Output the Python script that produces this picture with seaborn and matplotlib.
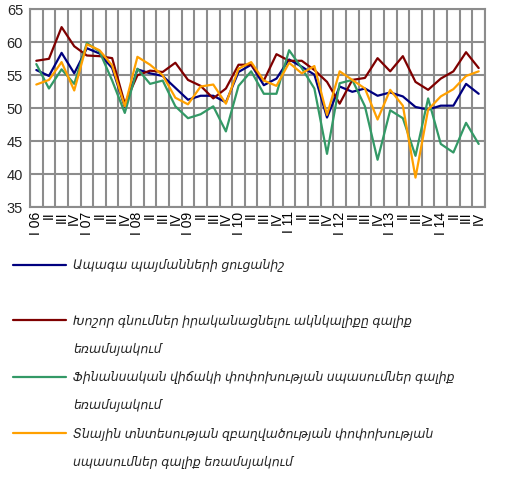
import numpy as np
import pandas as pd
import matplotlib
matplotlib.use("Agg")
import matplotlib.pyplot as plt
from matplotlib.lines import Line2D
from matplotlib.font_manager import FontProperties
import seaborn as sns

# Quarterly survey indices, 2006 Q1 - 2014 Q4
years = ["06", "07", "08", "09", "10", "11", "12", "13", "14"]
quarters = ["I", "II", "III", "IV"]
tick_labels = [f"{q} {y}" if q == "I" else q for y in years for q in quarters]

future_conditions = [55.8, 54.9, 58.4, 55.3, 59.1, 58.3, 56.1, 50.2, 55.9, 55.3,
                     54.9, 53.1, 51.3, 51.9, 51.9, 50.9, 55.5, 56.6, 53.5, 54.5,
                     57.4, 56.3, 55.1, 48.6, 53.3, 52.5, 53.0, 51.9, 52.4, 51.8,
                     50.2, 49.8, 50.4, 50.4, 53.7, 52.2]
big_purchases = [57.2, 57.5, 62.3, 59.4, 58.0, 57.9, 57.6, 50.7, 55.0, 55.7,
                 55.5, 56.9, 54.3, 53.4, 51.5, 53.0, 56.6, 56.6, 54.2, 58.2,
                 57.2, 57.2, 55.8, 54.0, 50.7, 54.3, 54.6, 57.6, 55.6, 57.9,
                 54.0, 52.8, 54.5, 55.6, 58.5, 56.1]
financial_state = [56.7, 53.0, 55.9, 53.7, 59.9, 58.6, 54.2, 49.3, 56.0, 53.7,
                   54.2, 50.3, 48.5, 49.1, 50.3, 46.5, 53.4, 55.6, 52.2, 52.2,
                   58.8, 56.1, 53.0, 43.1, 53.8, 54.3, 50.3, 42.2, 49.7, 48.5,
                   42.8, 51.5, 44.6, 43.3, 47.8, 44.6]
employment = [53.6, 54.3, 57.0, 52.7, 59.7, 58.8, 56.5, 50.3, 57.8, 56.6,
              55.0, 51.6, 50.6, 53.3, 53.6, 50.7, 56.0, 57.0, 54.2, 53.4,
              56.9, 55.3, 56.4, 49.0, 55.6, 54.3, 53.0, 48.3, 52.8, 50.4,
              39.5, 49.8, 51.8, 52.9, 54.9, 55.6]

series_names = [
    "Ապագա պայմանների ցուցանիշ",
    "Խոշոր գնումներ իրականացնելու ակնկալիքը գալիք եռամսյակում",
    "Ֆինանսական վիճակի փոփոխության սպասումներ գալիք եռամսյակում",
    "Տնային տնտեսության զբաղվածության փոփոխության սպասումներ գալիք եռամսյակում",
]
series_values = [future_conditions, big_purchases, financial_state, employment]
series_colors = ["#00007f", "#7f0000", "#339966", "#ffa000"]

# legend rows: (series index or None, text) -- long names wrap onto a second row
legend_rows = [
    (0, "Ապագա պայմանների ցուցանիշ"),
    (None, " "),
    (1, "Խոշոր գնումներ իրականացնելու ակնկալիքը գալիք"),
    (None, "եռամսյակում"),
    (2, "Ֆինանսական վիճակի փոփոխության սպասումներ գալիք"),
    (None, "եռամսյակում"),
    (3, "Տնային տնտեսության զբաղվածության փոփոխության"),
    (None, "սպասումներ գալիք եռամսյակում"),
]

df = pd.concat(
    [pd.DataFrame({"t": np.arange(len(v)), "value": v, "series": n})
     for n, v in zip(series_names, series_values)],
    ignore_index=True,
)

sns.set_style("white")
plt.rcParams["font.family"] = ["Liberation Sans", "DejaVu Sans"]

grid_color = "#8c8c8c"
grid_lw = 1.5
fig = plt.figure(figsize=(5.09, 4.84), dpi=100)
ax = fig.add_axes([30 / 509, 1 - 207.3 / 484, 455 / 509, 198 / 484])

sns.lineplot(data=df, x="t", y="value", hue="series", hue_order=series_names,
             palette=series_colors, linewidth=1.6, ax=ax, legend=False)

n = len(tick_labels)
ax.set_xlim(-0.5, n - 0.5)
ax.set_ylim(35, 65)
ax.set_yticks(range(35, 66, 5))
ax.set_xticks(np.arange(n))
ax.set_xticklabels(tick_labels, rotation=90, va="top", ha="center")
ax.set_xticks(np.arange(-0.5, n, 1), minor=True)
ax.set_xlabel("")
ax.set_ylabel("")

ax.set_axisbelow(True)
ax.grid(False)
ax.grid(True, axis="y", which="major", color=grid_color, linewidth=grid_lw)
ax.grid(True, axis="x", which="minor", color=grid_color, linewidth=grid_lw)
ax.tick_params(axis="x", which="major", length=0, pad=3, labelsize=10, colors="black")
ax.tick_params(axis="x", which="minor", length=5, width=grid_lw, color=grid_color, direction="out")
ax.tick_params(axis="y", length=4, width=grid_lw, color=grid_color, labelsize=10.5, pad=1)
for s in ax.spines.values():
    s.set_color(grid_color)
    s.set_linewidth(grid_lw)

handles, labels = [], []
for idx, text in legend_rows:
    if idx is None:
        handles.append(Line2D([], [], color="none"))
    else:
        handles.append(Line2D([], [], color=series_colors[idx], linewidth=1.6))
    labels.append(text)

fig.legend(handles, labels, loc="upper left", bbox_to_anchor=(13 / 509, 1 - 259 / 484),
           frameon=False, borderpad=0, borderaxespad=0, handlelength=4.2,
           handletextpad=0.6, labelspacing=1.22,
           prop=FontProperties(family=["Liberation Sans", "DejaVu Sans"],
                               style="italic", size=9.0))

fig.savefig("out.png", dpi=100)
